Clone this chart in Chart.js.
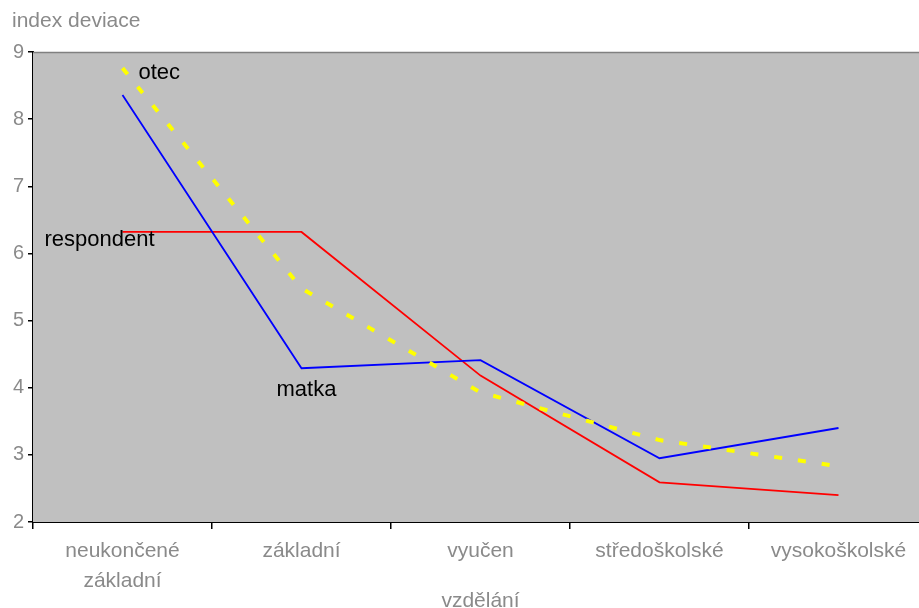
<!DOCTYPE html>
<html>
<head>
<meta charset="utf-8">
<script src="https://cdn.jsdelivr.net/npm/chart.js@4"></script>
<style>
  html, body { margin: 0; padding: 0; background: #fff; overflow: hidden; }
  #wrap { width: 928px; height: 608px; }
</style>
</head>
<body>
<div id="wrap"><canvas id="chart"></canvas></div>
<script>
const categories = [['neukončené', 'základní'], 'základní', 'vyučen', 'středoškolské', 'vysokoškolské'];
const respondent = [6.32, 6.32, 4.18, 2.59, 2.40];
const matka = [8.36, 4.29, 4.41, 2.95, 3.40];
const otec = [8.76, 5.48, 3.93, 3.22, 2.83];
const yTicks = [2, 3, 4, 5, 6, 7, 8, 9];

const FONT = 'Liberation Sans, Arial, sans-serif';

// grey plot area, axis title and the series names drawn next to the lines
const decorations = {
    id: 'decorations',
    beforeDatasetsDraw(chart) {
        const {ctx, chartArea: a} = chart;
        ctx.save();
        ctx.fillStyle = '#c0c0c0';
        ctx.fillRect(a.left, a.top, a.right - a.left, a.bottom - a.top);
        ctx.strokeStyle = '#808080';
        ctx.lineWidth = 1.5;
        ctx.beginPath();
        ctx.moveTo(a.left, a.top + 0.5);
        ctx.lineTo(a.right, a.top + 0.5);
        ctx.stroke();
        ctx.restore();
    },
    afterDraw(chart) {
        const {ctx, chartArea: a, scales: {x, y}} = chart;
        ctx.save();
        ctx.font = '21px ' + FONT;
        ctx.fillStyle = '#8a8a8a';
        ctx.textBaseline = 'middle';
        ctx.fillText('index deviace', a.left - 21, 21);
        ctx.font = '22px ' + FONT;
        ctx.fillStyle = '#000';
        ctx.fillText('otec', x.getPixelForValue(0) + 16, y.getPixelForValue(otec[0]) + 5);
        ctx.fillText('respondent', x.getPixelForValue(0) - 78, y.getPixelForValue(respondent[0]) + 8);
        ctx.fillText('matka', x.getPixelForValue(1) - 25, y.getPixelForValue(matka[1]) + 22);
        ctx.restore();
    }
};

new Chart(document.getElementById('chart'), {
    type: 'line',
    data: {
        labels: categories,
        datasets: [
            {
                label: 'otec',
                data: otec,
                borderColor: '#ffff00',
                borderWidth: 4,
                borderDash: [8, 16],
                pointRadius: 0,
                tension: 0
            },
            {
                label: 'matka',
                data: matka,
                borderColor: '#0000ff',
                borderWidth: 1.8,
                pointRadius: 0,
                tension: 0
            },
            {
                label: 'respondent',
                data: respondent,
                borderColor: '#ff0000',
                borderWidth: 1.8,
                pointRadius: 0,
                tension: 0
            }
        ]
    },
    options: {
        responsive: true,
        maintainAspectRatio: false,
        animation: false,
        layout: {padding: {top: 52, left: 0, right: 0, bottom: 0}},
        plugins: {
            legend: {display: false},
            tooltip: {enabled: false}
        },
        scales: {
            x: {
                offset: true,
                afterFit: axis => { axis.height = 86; },
                grid: {offset: true, drawOnChartArea: false, tickLength: 7, color: '#000', lineWidth: 1.5},
                border: {color: '#000', width: 2},
                ticks: {color: '#8a8a8a', font: {family: FONT, size: 21, lineHeight: 1.45}, padding: 7, maxRotation: 0, autoSkip: false},
                title: {display: true, text: 'vzdělání', color: '#8a8a8a', font: {family: FONT, size: 21}, padding: {top: 0, bottom: -6}}
            },
            y: {
                min: 2,
                max: 9,
                afterFit: axis => { axis.width = 33; },
                afterBuildTicks: axis => { axis.ticks = yTicks.map(v => ({value: v})); },
                grid: {drawOnChartArea: false, tickLength: 5, color: '#000', lineWidth: 1.5},
                border: {color: '#000', width: 2},
                ticks: {color: '#8a8a8a', font: {family: FONT, size: 20}, padding: 4}
            }
        }
    },
    plugins: [decorations]
});
</script>
</body>
</html>
